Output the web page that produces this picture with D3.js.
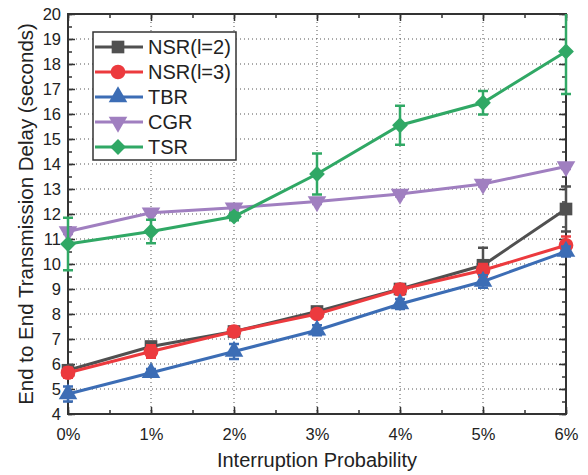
<!DOCTYPE html>
<html><head><meta charset="utf-8">
<script src="https://cdn.jsdelivr.net/npm/d3@7"></script>
<style>body{margin:0;background:#fff}svg{display:block}text{font-family:"Liberation Sans",Arial,sans-serif;fill:#222}</style>
</head><body><svg id="c" width="588" height="475"></svg>
<script>
const categories = ["0%","1%","2%","3%","4%","5%","6%"];
const xValues = [0,1,2,3,4,5,6];
const yTicks = [4,5,6,7,8,9,10,11,12,13,14,15,16,17,18,19,20];
const seriesNames = ["NSR(l=2)","NSR(l=3)","TBR","CGR","TSR"];
const nsr2 = [5.75,6.7,7.3,8.1,9.0,9.95,12.2];
const nsr2Err = [0.15,0.15,0.1,0.15,0.15,0.7,0.9];
const nsr3 = [5.65,6.5,7.3,8.0,8.98,9.75,10.75];
const nsr3Err = [0.2,0.25,0.15,0.15,0.2,0.25,0.35];
const tbr = [4.8,5.65,6.5,7.35,8.4,9.3,10.5];
const tbrErr = [0.3,0.15,0.3,0.2,0.2,0.25,0.2];
const cgr = [11.3,12.05,12.25,12.5,12.8,13.2,13.9];
const cgrErr = [0.1,0.1,0.1,0.1,0.1,0.1,0.1];
const tsr = [10.8,11.3,11.9,13.6,15.55,16.45,18.5];
const tsrErr = [1.05,0.47,0.15,0.82,0.78,0.47,1.7];
const colors = ["#505050","#ec3a3e","#3c6db5","#a07fc0","#30a865"];
const symbols = ["square","circle","tri-up","tri-down","diamond"];

const svg = d3.select("#c");
const L=68,R=566,T=14,B=414;
const x = d3.scaleLinear().domain([0,6]).range([L,R]);
const y = d3.scaleLinear().domain([4,20]).range([B,T]);

// grid
const g = svg.append("g");
g.selectAll(".gy").data(yTicks.filter(v=>v>4&&v<20)).join("line")
 .attr("x1",L).attr("x2",R).attr("y1",d=>y(d)).attr("y2",d=>y(d))
 .attr("stroke","#555").attr("stroke-width",1).attr("stroke-dasharray","1,3");
g.selectAll(".gx").data(xValues.filter(v=>v>0&&v<6)).join("line")
 .attr("y1",T).attr("y2",B).attr("x1",d=>x(d)).attr("x2",d=>x(d))
 .attr("stroke","#555").attr("stroke-width",1).attr("stroke-dasharray","1,3");

// axes
const minorX = d3.range(0,6.01,0.5);
const minorY = d3.range(4,20.01,0.5);
const ax = svg.append("g");
function tickAxis(axisGen, tr, vals, size){
  ax.append("g").attr("transform",tr).call(axisGen.tickValues(vals).tickSize(size).tickFormat(""))
   .call(s=>{s.select(".domain").remove();s.selectAll("line").attr("stroke","#333").attr("stroke-width",1.5);});
}
tickAxis(d3.axisTop(x),`translate(0,${B})`,minorX,4);
tickAxis(d3.axisTop(x),`translate(0,${B})`,xValues,7);
tickAxis(d3.axisBottom(x),`translate(0,${T})`,minorX,4);
tickAxis(d3.axisBottom(x),`translate(0,${T})`,xValues,7);
tickAxis(d3.axisRight(y),`translate(${L},0)`,minorY,4);
tickAxis(d3.axisRight(y),`translate(${L},0)`,yTicks,7);
tickAxis(d3.axisLeft(y),`translate(${R},0)`,minorY,4);
tickAxis(d3.axisLeft(y),`translate(${R},0)`,yTicks,7);
const xl = ax.append("g").attr("transform",`translate(0,${B})`)
 .call(d3.axisBottom(x).tickValues(xValues).tickSize(0).tickPadding(14).tickFormat((d,i)=>categories[i]));
xl.select(".domain").remove();
xl.selectAll("text").style("font-size","16.5px").style("font-family","'Liberation Sans',Arial,sans-serif").attr("fill","#222");
const yl = ax.append("g").attr("transform",`translate(${L},0)`)
 .call(d3.axisLeft(y).tickValues(yTicks).tickSize(0).tickPadding(7).tickFormat(d3.format("d")));
yl.select(".domain").remove();
yl.selectAll("text").style("font-size","16.5px").style("font-family","'Liberation Sans',Arial,sans-serif").attr("fill","#222");
svg.append("rect").attr("x",L).attr("y",T).attr("width",R-L).attr("height",B-T)
 .attr("fill","none").attr("stroke","#333").attr("stroke-width",2);

// titles
svg.append("text").attr("x",317).attr("y",467).attr("text-anchor","middle").style("font-size","20px").text("Interruption Probability");
svg.append("text").attr("transform","translate(33,214) rotate(-90)").attr("text-anchor","middle").style("font-size","20.5px").text("End to End Transmission Delay (seconds)");

// series
const data = [[nsr2,nsr2Err],[nsr3,nsr3Err],[tbr,tbrErr],[cgr,cgrErr],[tsr,tsrErr]];
function markerPath(i){
  const s = symbols[i];
  if(s==="square") return d3.symbol(d3.symbolSquare,160)();
  if(s==="circle") return d3.symbol(d3.symbolCircle,170)();
  if(s==="diamond") return d3.symbol(d3.symbolSquare,125)();
  return d3.symbol(d3.symbolTriangle,150)();
}
function markerRot(i){
  const s = symbols[i];
  return s==="tri-down" ? " rotate(180)" : s==="diamond" ? " rotate(45)" : "";
}
const line = d3.line().x((d,i)=>x(xValues[i])).y(d=>y(d));
data.forEach(([vals,errs],si)=>{
  const c = colors[si];
  const sg = svg.append("g");
  sg.append("path").attr("d",line(vals)).attr("fill","none").attr("stroke",c).attr("stroke-width",3);
  vals.forEach((v,i)=>{
    const lo = Math.max(4,v-errs[i]), hi=Math.min(20,v+errs[i]);
    const xx = x(xValues[i]);
    sg.append("line").attr("x1",xx).attr("x2",xx).attr("y1",y(lo)).attr("y2",y(hi)).attr("stroke",c).attr("stroke-width",2.5);
    if(v+errs[i]<=20) sg.append("line").attr("x1",xx-5).attr("x2",xx+5).attr("y1",y(hi)).attr("y2",y(hi)).attr("stroke",c).attr("stroke-width",2.5);
    sg.append("line").attr("x1",xx-5).attr("x2",xx+5).attr("y1",y(lo)).attr("y2",y(lo)).attr("stroke",c).attr("stroke-width",2.5);
  });
  sg.selectAll(".m").data(vals).join("path")
   .attr("d",markerPath(si))
   .attr("transform",(d,i)=>`translate(${x(xValues[i])},${y(d)})`+markerRot(si))
   .attr("fill",c);
});

// legend
const lg = svg.append("g");
lg.append("rect").attr("x",93).attr("y",32).attr("width",143).attr("height",128)
 .attr("fill","#fff").attr("stroke","#333").attr("stroke-width",1.5);
seriesNames.forEach((n,i)=>{
  const yy = 47 + i*25;
  lg.append("line").attr("x1",95).attr("x2",143).attr("y1",yy).attr("y2",yy).attr("stroke",colors[i]).attr("stroke-width",3);
  lg.append("path").attr("d",markerPath(i)).attr("fill",colors[i])
   .attr("transform",`translate(118,${yy})`+markerRot(i));
  lg.append("text").attr("x",148).attr("y",yy+7).style("font-size","20px").text(n);
});
</script></body></html>
